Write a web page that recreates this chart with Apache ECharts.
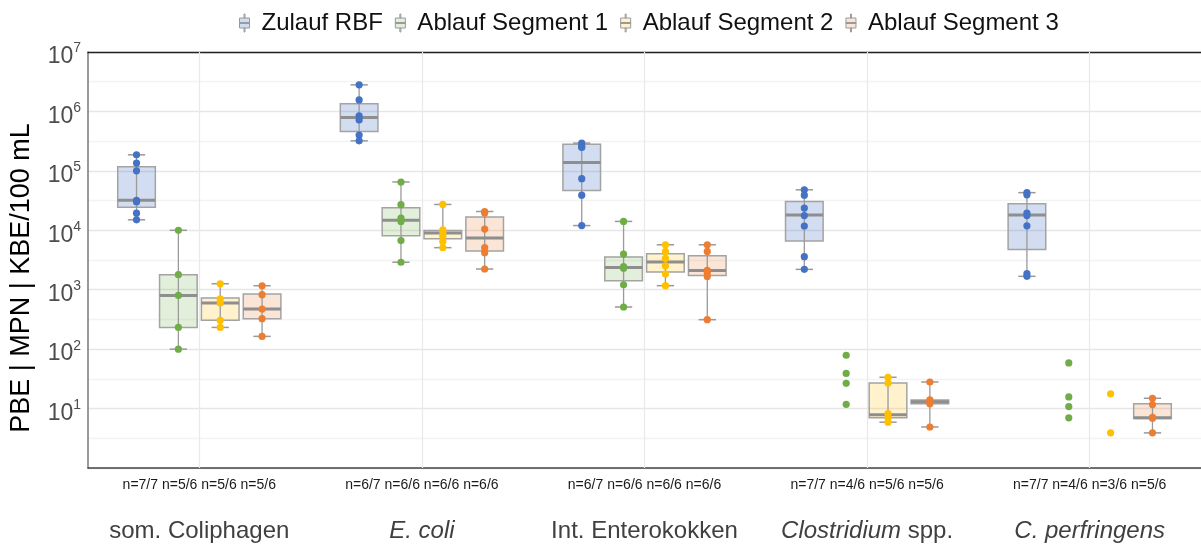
<!DOCTYPE html>
<html><head><meta charset="utf-8">
<script src="https://cdn.jsdelivr.net/npm/echarts@6/dist/echarts.min.js"></script>
<style>html,body{margin:0;padding:0;background:#fff}#c{width:1201px;height:550px}</style>
</head><body><div id="c"></div>
<script>
// ---------- data ----------
const categories = ['som. Coliphagen', 'E. coli', 'Int. Enterokokken', 'Clostridium spp.', 'C. perfringens'];
const categoryLabels = ['{c|som. Coliphagen}', '{i|E. coli}', '{c|Int. Enterokokken}', '{i|Clostridium}{c| spp.}', '{i|C. perfringens}'];
const nLabels = ['n=7/7 n=5/6 n=5/6 n=5/6', 'n=6/7 n=6/6 n=6/6 n=6/6', 'n=6/7 n=6/6 n=6/6 n=6/6', 'n=7/7 n=4/6 n=5/6 n=5/6', 'n=7/7 n=4/6 n=3/6 n=5/6'];
const seriesNames = ['Zulauf RBF', 'Ablauf Segment 1', 'Ablauf Segment 2', 'Ablauf Segment 3'];
const yTickExponents = [1, 2, 3, 4, 5, 6, 7];
const yTitle = 'PBE | MPN | KBE/100 mL';

// box statistics per category: [min, q1, median, q3, max] (null = no box)
const zulaufBox = [
  [1.5e4, 2.45e4, 3.2e4, 1.17e5, 1.86e5],
  [3.2e5, 4.6e5, 7.9e5, 1.35e6, 2.8e6],
  [1.2e4, 4.65e4, 1.38e5, 2.8e5, 2.93e5],
  [2.2e3, 6.6e3, 1.8e4, 3.05e4, 4.8e4],
  [1.68e3, 4.75e3, 1.8e4, 2.8e4, 4.3e4]
];
const seg1Box = [
  [100, 232, 800, 1790, 1.0e4],
  [2.9e3, 8.1e3, 1.48e4, 2.39e4, 6.5e4],
  [512, 1.42e3, 2.37e3, 3.55e3, 1.41e4],
  null,
  null
];
const seg2Box = [
  [232, 305, 597, 726, 1260],
  [5.1e3, 7.2e3, 8.97e3, 9.9e3, 2.72e4],
  [1.17e3, 1.98e3, 2.92e3, 4.03e3, 5.7e3],
  [5.9, 6.98, 7.9, 27, 33.6],
  null
];
const seg3Box = [
  [164, 326, 474, 843, 1167],
  [2.23e3, 4.47e3, 7.4e3, 1.67e4, 2.07e4],
  [313, 1.74e3, 2.11e3, 3.73e3, 5.7e3],
  [4.9, 12, 13, 14, 28],
  [3.9, 6.8, 7.0, 12, 14.9]
];

// individual measurements per category
const zulaufPoints = [
  [1.86e5, 1.35e5, 1.0e5, 3.2e4, 3.0e4, 1.94e4, 1.5e4],
  [2.8e6, 1.56e6, 8.4e5, 7.2e5, 4.0e5, 3.2e5],
  [2.93e5, 2.6e5, 2.47e5, 7.4e4, 3.9e4, 1.2e4],
  [4.8e4, 3.9e4, 2.36e4, 1.77e4, 1.18e4, 3.6e3, 2.2e3],
  [4.3e4, 3.95e4, 1.95e4, 1.77e4, 1.19e4, 1.86e3, 1.68e3]
];
const seg1Points = [
  [1.0e4, 1.79e3, 800, 232, 100],
  [6.5e4, 2.7e4, 1.6e4, 1.41e4, 6.7e3, 2.9e3],
  [1.41e4, 3.98e3, 2.45e3, 2.3e3, 1.21e3, 512],
  [79, 39, 26.6, 11.8],
  [58.6, 15.7, 10.8, 7.0]
];
const seg2Points = [
  [1260, 700, 600, 305, 232],
  [2.72e4, 1.02e4, 9.0e3, 7.9e3, 6.5e3, 5.1e3],
  [5.7e3, 4.4e3, 3.36e3, 2.53e3, 1.84e3, 1.17e3],
  [33.6, 27, 8.2, 7.0, 5.9],
  [17.7, 3.9]
];
const seg3Points = [
  [1167, 824, 474, 326, 164],
  [2.07e4, 1.95e4, 1.05e4, 5.1e3, 4.2e3, 2.23e3],
  [5.7e3, 4.4e3, 2.11e3, 1.91e3, 1.67e3, 313],
  [28, 14, 13, 12, 4.9],
  [14.9, 11.7, 7.1, 6.9, 3.9]
];

// ---------- styles ----------
const pointColors = ['#4472C4', '#70AD47', '#FFC000', '#ED7D31'];
const boxFills = ['rgba(68,114,196,0.24)', 'rgba(112,173,71,0.2)', 'rgba(255,192,0,0.2)', 'rgba(237,125,49,0.2)'];
const legendFills = ['#D0DCF0', '#E2EFDA', '#FFF2CC', '#FBE5D6'];
const FONT = "'Liberation Sans', Arial, sans-serif";

const allBoxes = [zulaufBox, seg1Box, seg2Box, seg3Box];
const allPoints = [zulaufPoints, seg1Points, seg2Points, seg3Points];

function geom(api, s) {
  const c = api.value(0);
  const band = api.size([1, 0], [c, 10])[0];
  const center = api.coord([c, 10])[0];
  return { c, band, x: center + (s - 1.5) * band * 0.188, w: band * 0.169 };
}

function boxRenderer(s) {
  return function (params, api) {
    const g = geom(api, s);
    const y = k => api.coord([g.c, api.value(k)])[1];
    const yMin = y(1), yQ1 = y(2), yMed = y(3), yQ3 = y(4), yMax = y(5);
    const x = g.x, w = g.w, cap = w * 0.46;
    return {
      type: 'group',
      children: [
        { type: 'rect', shape: { x: x - w / 2, y: yQ3, width: w, height: yQ1 - yQ3 },
          style: { fill: boxFills[s], stroke: '#a3a3a3', lineWidth: 1.5 } },
        { type: 'line', shape: { x1: x, y1: yMax, x2: x, y2: yMin }, style: { stroke: '#9a9a9a', lineWidth: 1.3 } },
        { type: 'line', shape: { x1: x - cap / 2, y1: yMax, x2: x + cap / 2, y2: yMax }, style: { stroke: '#999', lineWidth: 1.5 } },
        { type: 'line', shape: { x1: x - cap / 2, y1: yMin, x2: x + cap / 2, y2: yMin }, style: { stroke: '#999', lineWidth: 1.5 } },
        { type: 'line', shape: { x1: x - w / 2, y1: yMed, x2: x + w / 2, y2: yMed }, style: { stroke: '#8e8e8e', lineWidth: 3 } }
      ]
    };
  };
}
function pointRenderer(s) {
  return function (params, api) {
    const g = geom(api, s);
    const y = api.coord([g.c, api.value(1)])[1];
    return { type: 'circle', shape: { cx: g.x, cy: y, r: 3.6 }, style: { fill: pointColors[s] } };
  };
}

const series = [];
seriesNames.forEach((name, s) => {
  const boxData = [];
  allBoxes[s].forEach((b, i) => { if (b) boxData.push([i].concat(b)); });
  const ser = {
    name, type: 'custom', xAxisIndex: 0, yAxisIndex: 1, z: 3,
    renderItem: boxRenderer(s), data: boxData,
    encode: { x: 0, y: [1, 2, 3, 4, 5] }, itemStyle: { color: pointColors[s] }, silent: true
  };
  if (s === 0) {
    ser.markLine = {
      silent: true, symbol: 'none', label: { show: false }, z: 1,
      lineStyle: { color: '#e9e9e9', width: 1.2, type: 'solid' },
      data: categories.map((c, i) => ({ xAxis: i }))
    };
  }
  series.push(ser);
});
seriesNames.forEach((name, s) => {
  const ptData = [];
  allPoints[s].forEach((arr, i) => arr.forEach(v => ptData.push([i, v])));
  series.push({
    name, type: 'custom', xAxisIndex: 0, yAxisIndex: 1, z: 5,
    renderItem: pointRenderer(s), data: ptData,
    encode: { x: 0, y: 1 }, itemStyle: { color: pointColors[s] }, silent: true
  });
});

const iconPath = 'path://M5.5,0h1v4h-1z M1,4h10v10h-10z M1,8.5h10v1h-10z M5.5,14h1v4h-1z';

const chart = echarts.init(document.getElementById('c'), null, { renderer: 'canvas' });
chart.setOption({
  animation: false,
  backgroundColor: '#fff',
  textStyle: { fontFamily: FONT },
  legend: {
    left: 234, top: 6, itemWidth: 12, itemHeight: 18, itemGap: 12,
    textStyle: { fontSize: 24, color: '#111', fontFamily: FONT, padding: [0, 0, 0, 6] },
    data: seriesNames.map((n, s) => ({
      name: n, icon: iconPath,
      itemStyle: { color: legendFills[s], borderColor: '#9a9a9a', borderWidth: 1 }
    }))
  },
  graphic: [{
    type: 'text', x: 22, y: 278, rotation: Math.PI / 2, silent: true,
    style: { text: yTitle, font: "27px 'Liberation Sans', Arial, sans-serif", fill: '#000', align: 'center', verticalAlign: 'middle' }
  }],
  grid: { left: 88, top: 52, width: 1117, height: 416 },
  xAxis: [{
    type: 'category', data: categories, boundaryGap: true, position: 'bottom',
    axisLine: { show: true, lineStyle: { color: '#444', width: 1.5 } },
    axisTick: { show: false }, splitLine: { show: false },
    axisLabel: {
      interval: 0, margin: 8, fontFamily: FONT,
      formatter: (val, idx) => '{n|' + nLabels[idx] + '}\n' + categoryLabels[idx],
      rich: {
        n: { fontSize: 14, color: '#1a1a1a', lineHeight: 18, fontFamily: FONT },
        c: { fontSize: 24, color: '#404040', lineHeight: 74, fontFamily: FONT },
        i: { fontSize: 24, color: '#404040', lineHeight: 74, fontStyle: 'italic', fontFamily: FONT }
      }
    }
  }, {
    type: 'category', data: categories, position: 'top',
    axisLine: { show: true, lineStyle: { color: '#222', width: 1.3 } },
    axisTick: { show: false }, axisLabel: { show: false }, splitLine: { show: false }
  }],
  yAxis: [{
    type: 'value', min: 0, max: 7, interval: 0.5,
    axisLine: { show: true, lineStyle: { color: '#777', width: 1.5 } }, axisTick: { show: false },
    splitLine: { show: true, lineStyle: { color: ['#e6e6e6', '#f3f3f3'], width: 1.3 } },
    axisLabel: {
      margin: 7, showMinLabel: true, showMaxLabel: true,
      formatter: v => yTickExponents.indexOf(v) >= 0 ? '{b|10}{s|' + v + '}' : '',
      rich: {
        b: { fontSize: 23, color: '#4d4d4d', padding: [10, 0, 0, 0], fontFamily: FONT },
        s: { fontSize: 14, color: '#4d4d4d', verticalAlign: 'top', padding: [6, 0, 0, 0], fontFamily: FONT }
      }
    }
  }, {
    type: 'log', logBase: 10, min: 1, max: 1e7, show: false,
    splitLine: { show: false }
  }],
  series
});
</script></body></html>
